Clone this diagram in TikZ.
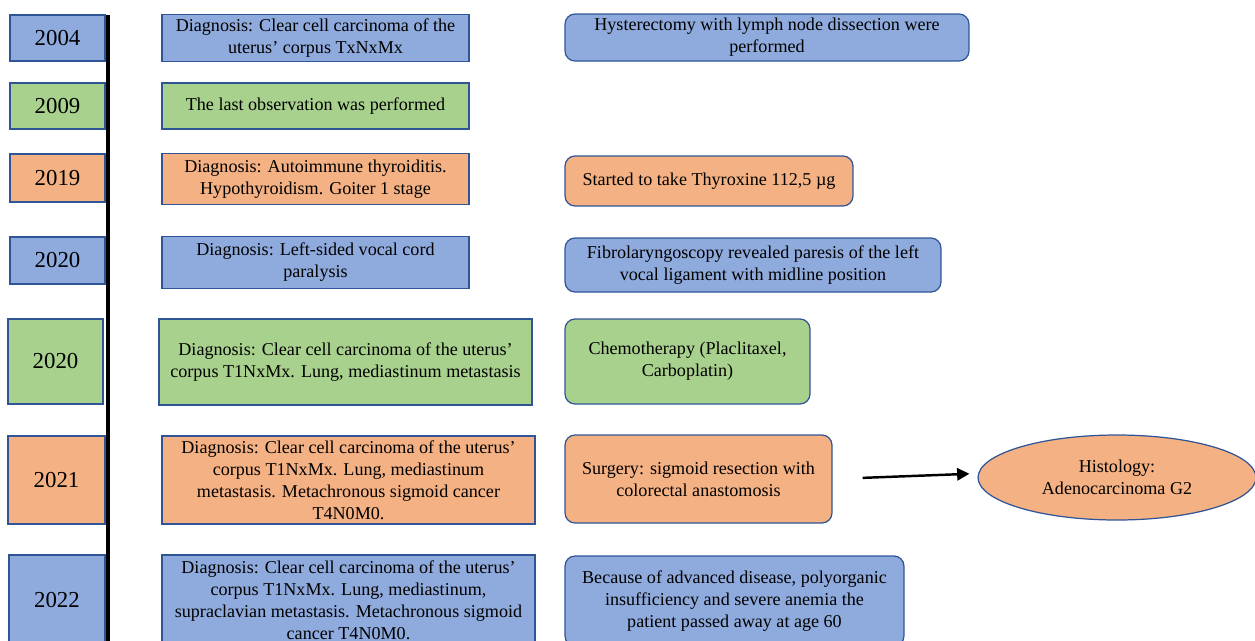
\documentclass[tikz,border=0pt]{standalone}
\usepackage{fontspec}
\setmainfont{Liberation Serif}
\usetikzlibrary{shapes.geometric,arrows.meta}

\definecolor{blueF}{HTML}{8FAADC}
\definecolor{greenF}{HTML}{A9D18E}
\definecolor{orangeF}{HTML}{F4B183}
\definecolor{edgeC}{HTML}{2F5597}

\tikzset{
    yearbox/.style={draw=edgeC, line width=0.7pt, inner sep=1pt,
        font=\fontsize{13}{15}\selectfont},
    diagbox/.style={draw=edgeC, line width=0.7pt, inner sep=1pt, align=center,
        font=\fontsize{10.3}{12.5}\selectfont},
    actbox/.style={diagbox, rounded corners=0.2cm}
}

\begin{document}
\begin{tikzpicture}[x=0.02cm, y=-0.02cm]
    \useasboundingbox (0,0) rectangle (1255,640);
    \clip (0,0) rectangle (1255,640);

    % timeline
    \draw[line width=2.8pt] (108,15) -- (108,660);

    % years
    \node[yearbox, fill=blueF, minimum width=1.9cm, minimum height=0.92cm] (y04) at (57.5,38) {2004};
    \node[yearbox, fill=greenF, minimum width=1.9cm, minimum height=0.92cm] (y09) at (57.5,106) {2009};
    \node[yearbox, fill=orangeF, minimum width=1.9cm, minimum height=0.96cm] (y19) at (57.5,178) {2019};
    \node[yearbox, fill=blueF, minimum width=1.9cm, minimum height=0.94cm] (y20a) at (57.5,260.5) {2020};
    \node[yearbox, fill=greenF, minimum width=1.9cm, minimum height=1.7cm] (y20b) at (55.5,361.5) {2020};
    \node[yearbox, fill=orangeF, minimum width=1.94cm, minimum height=1.76cm] (y21) at (56.5,480) {2021};
    \node[yearbox, fill=blueF, minimum width=1.92cm, minimum height=1.8cm] (y22) at (57,600) {2022};

    % diagnoses
    \node[diagbox, fill=blueF, minimum width=6.14cm, minimum height=0.94cm] (d04) at (315.5,38)
        {Diagnosis: Clear cell carcinoma of the\\uterus’ corpus TxNxMx};
    \node[diagbox, fill=greenF, minimum width=6.14cm, minimum height=0.92cm] (d09) at (315.5,106)
        {The last observation was performed};
    \node[diagbox, fill=orangeF, minimum width=6.14cm, minimum height=1.02cm] (d19) at (315.5,179)
        {Diagnosis: Autoimmune thyroiditis.\\Hypothyroidism. Goiter 1 stage};
    \node[diagbox, fill=blueF, minimum width=6.14cm, minimum height=1.04cm] (d20a) at (315.5,262.5)
        {Diagnosis: Left-sided vocal cord\\paralysis};
    \node[diagbox, fill=greenF, minimum width=7.46cm, minimum height=1.72cm] (d20b) at (345.5,362)
        {Diagnosis: Clear cell carcinoma of the uterus’\\corpus T1NxMx. Lung, mediastinum metastasis};
    \node[diagbox, fill=orangeF, minimum width=7.46cm, minimum height=1.76cm] (d21) at (348.5,480)
        {Diagnosis: Clear cell carcinoma of the uterus’\\corpus T1NxMx. Lung, mediastinum\\metastasis. Metachronous sigmoid cancer\\T4N0M0.};
    \node[diagbox, fill=blueF, minimum width=7.46cm, minimum height=1.8cm] (d22) at (348.5,600)
        {Diagnosis: Clear cell carcinoma of the uterus’\\corpus T1NxMx. Lung, mediastinum,\\supraclavian metastasis. Metachronous sigmoid\\cancer T4N0M0.};

    % treatment and outcome
    \node[actbox, fill=blueF, minimum width=8.08cm, minimum height=0.94cm] (r04) at (767,37.5)
        {Hysterectomy with lymph node dissection were\\performed};
    \node[actbox, fill=orangeF, minimum width=5.76cm, minimum height=1.0cm] (r19) at (709,181)
        {Started to take Thyroxine 112,5 µg};
    \node[actbox, fill=blueF, minimum width=7.52cm, minimum height=1.08cm] (r20a) at (753,265)
        {Fibrolaryngoscopy revealed paresis of the left\\vocal ligament with midline position};
    \node[actbox, fill=greenF, minimum width=4.9cm, minimum height=1.7cm] (r20b) at (687.5,361.5)
        {Chemotherapy (Placlitaxel,\\Carboplatin)};
    \node[actbox, fill=orangeF, minimum width=5.34cm, minimum height=1.76cm] (r21) at (698.5,479)
        {Surgery: sigmoid resection with\\colorectal anastomosis};
    \node[actbox, fill=blueF, minimum width=6.78cm, minimum height=1.8cm] (r22) at (734.5,601)
        {Because of advanced disease, polyorganic\\insufficiency and severe anemia the\\patient passed away at age 60};

    \node[diagbox, ellipse, fill=orangeF, minimum width=5.56cm, minimum height=1.7cm] (hist) at (1117,477.5)
        {Histology:\\Adenocarcinoma G2};

    \draw[line width=1.4pt, -{Triangle[length=7pt,width=7pt]}, shorten <=0.6cm, shorten >=0.16cm]
        (r21.east) -- ([yshift=0.08cm]hist.west);

\end{tikzpicture}
\end{document}
